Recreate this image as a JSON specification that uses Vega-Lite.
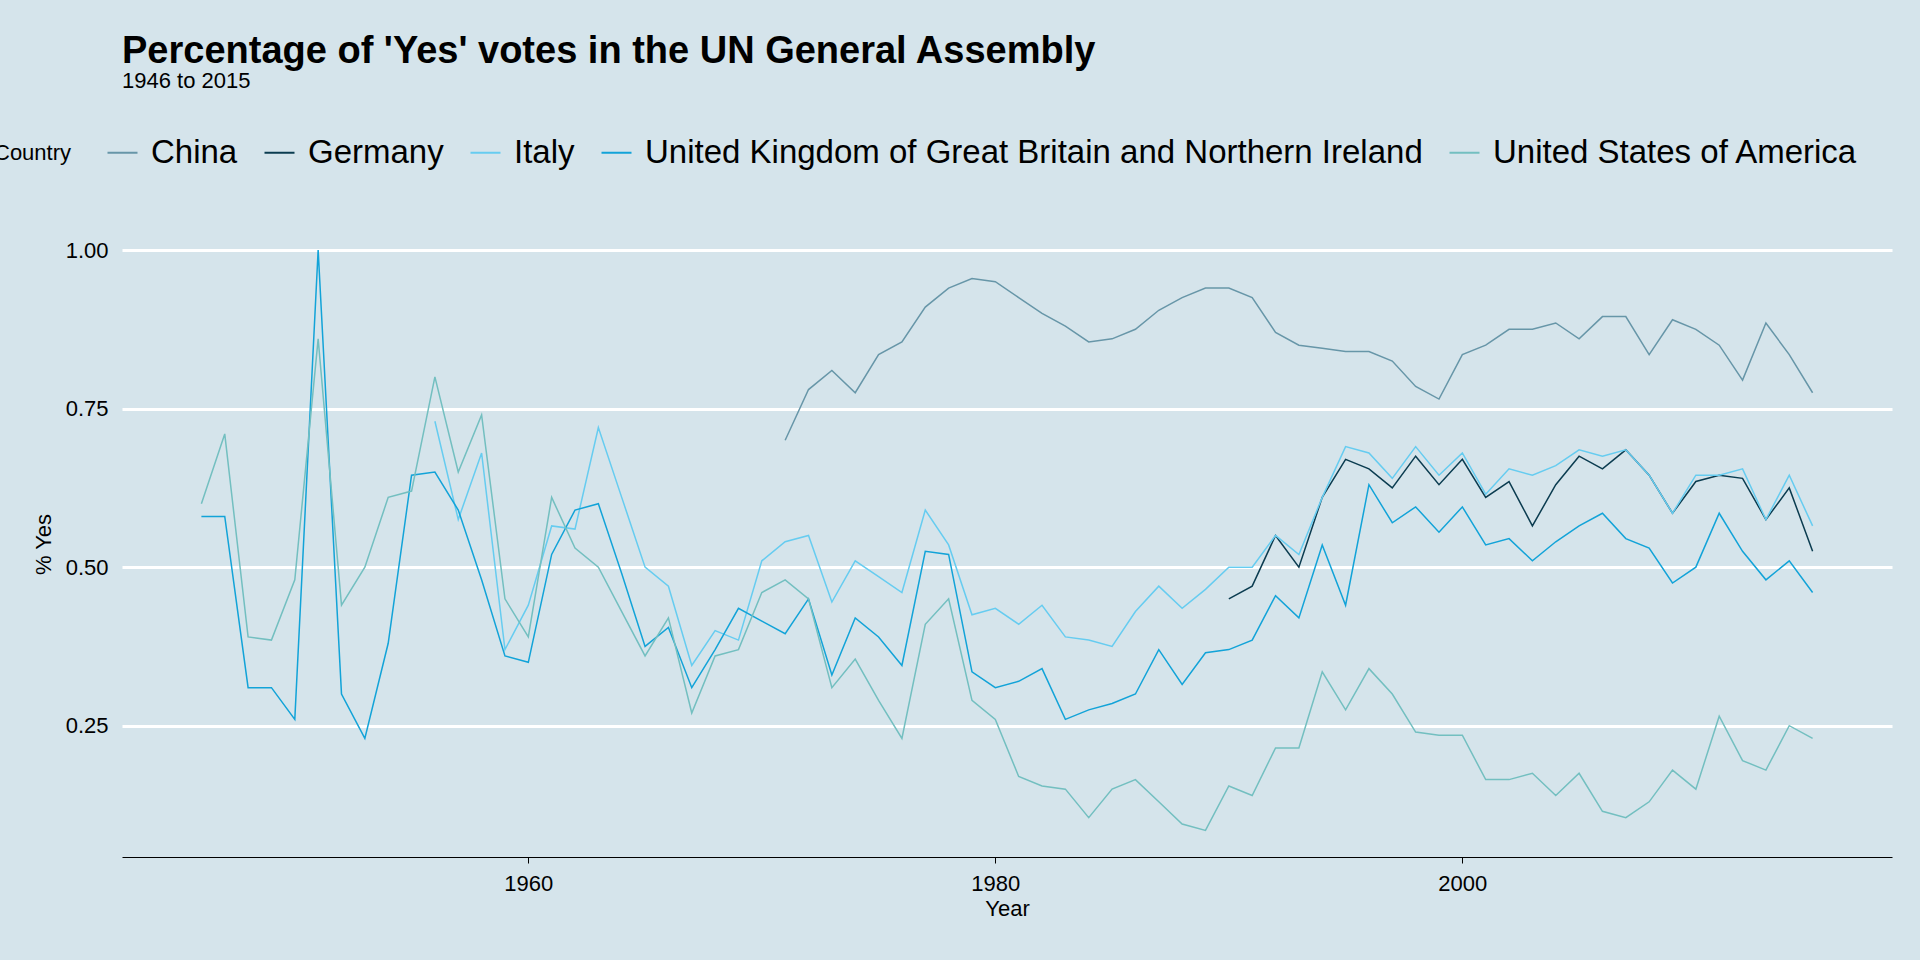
{
  "$schema": "https://vega.github.io/schema/vega-lite/v6.json",
  "width": 1770,
  "height": 626,
  "autosize": {"type": "none"},
  "padding": {"left": 122, "top": 231, "right": 28, "bottom": 103},
  "background": "#d5e4eb",
  "config": {
    "view": {"stroke": null},
    "font": "Liberation Sans"
  },
  "title": {
    "text": "Percentage of 'Yes' votes in the UN General Assembly",
    "subtitle": "1946 to 2015",
    "anchor": "start",
    "frame": "group",
    "fontSize": 38,
    "fontWeight": "bold",
    "subtitleFontSize": 22,
    "subtitlePadding": 0,
    "color": "#000000",
    "subtitleColor": "#000000",
    "offset": 44
  },
  "data": {"values": [
    {"year":1971,"country":"China","pct":0.70},{"year":1972,"country":"China","pct":0.78},{"year":1973,"country":"China","pct":0.81},{"year":1974,"country":"China","pct":0.775},{"year":1975,"country":"China","pct":0.835},{"year":1976,"country":"China","pct":0.855},{"year":1977,"country":"China","pct":0.91},{"year":1978,"country":"China","pct":0.94},{"year":1979,"country":"China","pct":0.955},{"year":1980,"country":"China","pct":0.95},{"year":1981,"country":"China","pct":0.925},{"year":1982,"country":"China","pct":0.90},{"year":1983,"country":"China","pct":0.88},{"year":1984,"country":"China","pct":0.855},{"year":1985,"country":"China","pct":0.86},{"year":1986,"country":"China","pct":0.875},{"year":1987,"country":"China","pct":0.905},{"year":1988,"country":"China","pct":0.925},{"year":1989,"country":"China","pct":0.94},{"year":1990,"country":"China","pct":0.94},{"year":1991,"country":"China","pct":0.925},{"year":1992,"country":"China","pct":0.87},{"year":1993,"country":"China","pct":0.85},{"year":1994,"country":"China","pct":0.845},{"year":1995,"country":"China","pct":0.84},{"year":1996,"country":"China","pct":0.84},{"year":1997,"country":"China","pct":0.825},{"year":1998,"country":"China","pct":0.785},{"year":1999,"country":"China","pct":0.765},{"year":2000,"country":"China","pct":0.835},{"year":2001,"country":"China","pct":0.85},{"year":2002,"country":"China","pct":0.875},{"year":2003,"country":"China","pct":0.875},{"year":2004,"country":"China","pct":0.885},{"year":2005,"country":"China","pct":0.86},{"year":2006,"country":"China","pct":0.895},{"year":2007,"country":"China","pct":0.895},{"year":2008,"country":"China","pct":0.835},{"year":2009,"country":"China","pct":0.89},{"year":2010,"country":"China","pct":0.875},{"year":2011,"country":"China","pct":0.85},{"year":2012,"country":"China","pct":0.795},{"year":2013,"country":"China","pct":0.885},{"year":2014,"country":"China","pct":0.835},{"year":2015,"country":"China","pct":0.775},

    {"year":1990,"country":"Germany","pct":0.45},{"year":1991,"country":"Germany","pct":0.47},{"year":1992,"country":"Germany","pct":0.55},{"year":1993,"country":"Germany","pct":0.50},{"year":1994,"country":"Germany","pct":0.61},{"year":1995,"country":"Germany","pct":0.67},{"year":1996,"country":"Germany","pct":0.655},{"year":1997,"country":"Germany","pct":0.625},{"year":1998,"country":"Germany","pct":0.675},{"year":1999,"country":"Germany","pct":0.63},{"year":2000,"country":"Germany","pct":0.67},{"year":2001,"country":"Germany","pct":0.61},{"year":2002,"country":"Germany","pct":0.635},{"year":2003,"country":"Germany","pct":0.565},{"year":2004,"country":"Germany","pct":0.63},{"year":2005,"country":"Germany","pct":0.675},{"year":2006,"country":"Germany","pct":0.655},{"year":2007,"country":"Germany","pct":0.685},{"year":2008,"country":"Germany","pct":0.645},{"year":2009,"country":"Germany","pct":0.585},{"year":2010,"country":"Germany","pct":0.635},{"year":2011,"country":"Germany","pct":0.645},{"year":2012,"country":"Germany","pct":0.64},{"year":2013,"country":"Germany","pct":0.575},{"year":2014,"country":"Germany","pct":0.625},{"year":2015,"country":"Germany","pct":0.525},

    {"year":1956,"country":"Italy","pct":0.73},{"year":1957,"country":"Italy","pct":0.575},{"year":1958,"country":"Italy","pct":0.68},{"year":1959,"country":"Italy","pct":0.37},{"year":1960,"country":"Italy","pct":0.44},{"year":1961,"country":"Italy","pct":0.565},{"year":1962,"country":"Italy","pct":0.56},{"year":1963,"country":"Italy","pct":0.72},{"year":1964,"country":"Italy","pct":0.61},{"year":1965,"country":"Italy","pct":0.50},{"year":1966,"country":"Italy","pct":0.47},{"year":1967,"country":"Italy","pct":0.345},{"year":1968,"country":"Italy","pct":0.40},{"year":1969,"country":"Italy","pct":0.385},{"year":1970,"country":"Italy","pct":0.51},{"year":1971,"country":"Italy","pct":0.54},{"year":1972,"country":"Italy","pct":0.55},{"year":1973,"country":"Italy","pct":0.445},{"year":1974,"country":"Italy","pct":0.51},{"year":1975,"country":"Italy","pct":0.485},{"year":1976,"country":"Italy","pct":0.46},{"year":1977,"country":"Italy","pct":0.59},{"year":1978,"country":"Italy","pct":0.535},{"year":1979,"country":"Italy","pct":0.425},{"year":1980,"country":"Italy","pct":0.435},{"year":1981,"country":"Italy","pct":0.41},{"year":1982,"country":"Italy","pct":0.44},{"year":1983,"country":"Italy","pct":0.39},{"year":1984,"country":"Italy","pct":0.385},{"year":1985,"country":"Italy","pct":0.375},{"year":1986,"country":"Italy","pct":0.43},{"year":1987,"country":"Italy","pct":0.47},{"year":1988,"country":"Italy","pct":0.435},{"year":1989,"country":"Italy","pct":0.465},{"year":1990,"country":"Italy","pct":0.50},{"year":1991,"country":"Italy","pct":0.50},{"year":1992,"country":"Italy","pct":0.55},{"year":1993,"country":"Italy","pct":0.52},{"year":1994,"country":"Italy","pct":0.61},{"year":1995,"country":"Italy","pct":0.69},{"year":1996,"country":"Italy","pct":0.68},{"year":1997,"country":"Italy","pct":0.64},{"year":1998,"country":"Italy","pct":0.69},{"year":1999,"country":"Italy","pct":0.645},{"year":2000,"country":"Italy","pct":0.68},{"year":2001,"country":"Italy","pct":0.615},{"year":2002,"country":"Italy","pct":0.655},{"year":2003,"country":"Italy","pct":0.645},{"year":2004,"country":"Italy","pct":0.66},{"year":2005,"country":"Italy","pct":0.685},{"year":2006,"country":"Italy","pct":0.675},{"year":2007,"country":"Italy","pct":0.685},{"year":2008,"country":"Italy","pct":0.645},{"year":2009,"country":"Italy","pct":0.585},{"year":2010,"country":"Italy","pct":0.645},{"year":2011,"country":"Italy","pct":0.645},{"year":2012,"country":"Italy","pct":0.655},{"year":2013,"country":"Italy","pct":0.575},{"year":2014,"country":"Italy","pct":0.645},{"year":2015,"country":"Italy","pct":0.565},

    {"year":1946,"country":"United Kingdom of Great Britain and Northern Ireland","pct":0.58},{"year":1947,"country":"United Kingdom of Great Britain and Northern Ireland","pct":0.58},{"year":1948,"country":"United Kingdom of Great Britain and Northern Ireland","pct":0.31},{"year":1949,"country":"United Kingdom of Great Britain and Northern Ireland","pct":0.31},{"year":1950,"country":"United Kingdom of Great Britain and Northern Ireland","pct":0.26},{"year":1951,"country":"United Kingdom of Great Britain and Northern Ireland","pct":1.0},{"year":1952,"country":"United Kingdom of Great Britain and Northern Ireland","pct":0.30},{"year":1953,"country":"United Kingdom of Great Britain and Northern Ireland","pct":0.23},{"year":1954,"country":"United Kingdom of Great Britain and Northern Ireland","pct":0.38},{"year":1955,"country":"United Kingdom of Great Britain and Northern Ireland","pct":0.645},{"year":1956,"country":"United Kingdom of Great Britain and Northern Ireland","pct":0.65},{"year":1957,"country":"United Kingdom of Great Britain and Northern Ireland","pct":0.59},{"year":1958,"country":"United Kingdom of Great Britain and Northern Ireland","pct":0.48},{"year":1959,"country":"United Kingdom of Great Britain and Northern Ireland","pct":0.36},{"year":1960,"country":"United Kingdom of Great Britain and Northern Ireland","pct":0.35},{"year":1961,"country":"United Kingdom of Great Britain and Northern Ireland","pct":0.52},{"year":1962,"country":"United Kingdom of Great Britain and Northern Ireland","pct":0.59},{"year":1963,"country":"United Kingdom of Great Britain and Northern Ireland","pct":0.60},{"year":1964,"country":"United Kingdom of Great Britain and Northern Ireland","pct":0.49},{"year":1965,"country":"United Kingdom of Great Britain and Northern Ireland","pct":0.375},{"year":1966,"country":"United Kingdom of Great Britain and Northern Ireland","pct":0.405},{"year":1967,"country":"United Kingdom of Great Britain and Northern Ireland","pct":0.31},{"year":1968,"country":"United Kingdom of Great Britain and Northern Ireland","pct":0.37},{"year":1969,"country":"United Kingdom of Great Britain and Northern Ireland","pct":0.435},{"year":1970,"country":"United Kingdom of Great Britain and Northern Ireland","pct":0.415},{"year":1971,"country":"United Kingdom of Great Britain and Northern Ireland","pct":0.395},{"year":1972,"country":"United Kingdom of Great Britain and Northern Ireland","pct":0.45},{"year":1973,"country":"United Kingdom of Great Britain and Northern Ireland","pct":0.33},{"year":1974,"country":"United Kingdom of Great Britain and Northern Ireland","pct":0.42},{"year":1975,"country":"United Kingdom of Great Britain and Northern Ireland","pct":0.39},{"year":1976,"country":"United Kingdom of Great Britain and Northern Ireland","pct":0.345},{"year":1977,"country":"United Kingdom of Great Britain and Northern Ireland","pct":0.525},{"year":1978,"country":"United Kingdom of Great Britain and Northern Ireland","pct":0.52},{"year":1979,"country":"United Kingdom of Great Britain and Northern Ireland","pct":0.335},{"year":1980,"country":"United Kingdom of Great Britain and Northern Ireland","pct":0.31},{"year":1981,"country":"United Kingdom of Great Britain and Northern Ireland","pct":0.32},{"year":1982,"country":"United Kingdom of Great Britain and Northern Ireland","pct":0.34},{"year":1983,"country":"United Kingdom of Great Britain and Northern Ireland","pct":0.26},{"year":1984,"country":"United Kingdom of Great Britain and Northern Ireland","pct":0.275},{"year":1985,"country":"United Kingdom of Great Britain and Northern Ireland","pct":0.285},{"year":1986,"country":"United Kingdom of Great Britain and Northern Ireland","pct":0.30},{"year":1987,"country":"United Kingdom of Great Britain and Northern Ireland","pct":0.37},{"year":1988,"country":"United Kingdom of Great Britain and Northern Ireland","pct":0.315},{"year":1989,"country":"United Kingdom of Great Britain and Northern Ireland","pct":0.365},{"year":1990,"country":"United Kingdom of Great Britain and Northern Ireland","pct":0.37},{"year":1991,"country":"United Kingdom of Great Britain and Northern Ireland","pct":0.385},{"year":1992,"country":"United Kingdom of Great Britain and Northern Ireland","pct":0.455},{"year":1993,"country":"United Kingdom of Great Britain and Northern Ireland","pct":0.42},{"year":1994,"country":"United Kingdom of Great Britain and Northern Ireland","pct":0.535},{"year":1995,"country":"United Kingdom of Great Britain and Northern Ireland","pct":0.44},{"year":1996,"country":"United Kingdom of Great Britain and Northern Ireland","pct":0.63},{"year":1997,"country":"United Kingdom of Great Britain and Northern Ireland","pct":0.57},{"year":1998,"country":"United Kingdom of Great Britain and Northern Ireland","pct":0.595},{"year":1999,"country":"United Kingdom of Great Britain and Northern Ireland","pct":0.555},{"year":2000,"country":"United Kingdom of Great Britain and Northern Ireland","pct":0.595},{"year":2001,"country":"United Kingdom of Great Britain and Northern Ireland","pct":0.535},{"year":2002,"country":"United Kingdom of Great Britain and Northern Ireland","pct":0.545},{"year":2003,"country":"United Kingdom of Great Britain and Northern Ireland","pct":0.51},{"year":2004,"country":"United Kingdom of Great Britain and Northern Ireland","pct":0.54},{"year":2005,"country":"United Kingdom of Great Britain and Northern Ireland","pct":0.565},{"year":2006,"country":"United Kingdom of Great Britain and Northern Ireland","pct":0.585},{"year":2007,"country":"United Kingdom of Great Britain and Northern Ireland","pct":0.545},{"year":2008,"country":"United Kingdom of Great Britain and Northern Ireland","pct":0.53},{"year":2009,"country":"United Kingdom of Great Britain and Northern Ireland","pct":0.475},{"year":2010,"country":"United Kingdom of Great Britain and Northern Ireland","pct":0.50},{"year":2011,"country":"United Kingdom of Great Britain and Northern Ireland","pct":0.585},{"year":2012,"country":"United Kingdom of Great Britain and Northern Ireland","pct":0.525},{"year":2013,"country":"United Kingdom of Great Britain and Northern Ireland","pct":0.48},{"year":2014,"country":"United Kingdom of Great Britain and Northern Ireland","pct":0.51},{"year":2015,"country":"United Kingdom of Great Britain and Northern Ireland","pct":0.46},

    {"year":1946,"country":"United States of America","pct":0.60},{"year":1947,"country":"United States of America","pct":0.71},{"year":1948,"country":"United States of America","pct":0.39},{"year":1949,"country":"United States of America","pct":0.385},{"year":1950,"country":"United States of America","pct":0.48},{"year":1951,"country":"United States of America","pct":0.86},{"year":1952,"country":"United States of America","pct":0.44},{"year":1953,"country":"United States of America","pct":0.50},{"year":1954,"country":"United States of America","pct":0.61},{"year":1955,"country":"United States of America","pct":0.62},{"year":1956,"country":"United States of America","pct":0.80},{"year":1957,"country":"United States of America","pct":0.65},{"year":1958,"country":"United States of America","pct":0.74},{"year":1959,"country":"United States of America","pct":0.45},{"year":1960,"country":"United States of America","pct":0.39},{"year":1961,"country":"United States of America","pct":0.61},{"year":1962,"country":"United States of America","pct":0.53},{"year":1963,"country":"United States of America","pct":0.50},{"year":1964,"country":"United States of America","pct":0.43},{"year":1965,"country":"United States of America","pct":0.36},{"year":1966,"country":"United States of America","pct":0.42},{"year":1967,"country":"United States of America","pct":0.27},{"year":1968,"country":"United States of America","pct":0.36},{"year":1969,"country":"United States of America","pct":0.37},{"year":1970,"country":"United States of America","pct":0.46},{"year":1971,"country":"United States of America","pct":0.48},{"year":1972,"country":"United States of America","pct":0.45},{"year":1973,"country":"United States of America","pct":0.31},{"year":1974,"country":"United States of America","pct":0.355},{"year":1975,"country":"United States of America","pct":0.29},{"year":1976,"country":"United States of America","pct":0.23},{"year":1977,"country":"United States of America","pct":0.41},{"year":1978,"country":"United States of America","pct":0.45},{"year":1979,"country":"United States of America","pct":0.29},{"year":1980,"country":"United States of America","pct":0.26},{"year":1981,"country":"United States of America","pct":0.17},{"year":1982,"country":"United States of America","pct":0.155},{"year":1983,"country":"United States of America","pct":0.15},{"year":1984,"country":"United States of America","pct":0.105},{"year":1985,"country":"United States of America","pct":0.15},{"year":1986,"country":"United States of America","pct":0.165},{"year":1987,"country":"United States of America","pct":0.13},{"year":1988,"country":"United States of America","pct":0.095},{"year":1989,"country":"United States of America","pct":0.085},{"year":1990,"country":"United States of America","pct":0.155},{"year":1991,"country":"United States of America","pct":0.14},{"year":1992,"country":"United States of America","pct":0.215},{"year":1993,"country":"United States of America","pct":0.215},{"year":1994,"country":"United States of America","pct":0.335},{"year":1995,"country":"United States of America","pct":0.275},{"year":1996,"country":"United States of America","pct":0.34},{"year":1997,"country":"United States of America","pct":0.30},{"year":1998,"country":"United States of America","pct":0.24},{"year":1999,"country":"United States of America","pct":0.235},{"year":2000,"country":"United States of America","pct":0.235},{"year":2001,"country":"United States of America","pct":0.165},{"year":2002,"country":"United States of America","pct":0.165},{"year":2003,"country":"United States of America","pct":0.175},{"year":2004,"country":"United States of America","pct":0.14},{"year":2005,"country":"United States of America","pct":0.175},{"year":2006,"country":"United States of America","pct":0.115},{"year":2007,"country":"United States of America","pct":0.105},{"year":2008,"country":"United States of America","pct":0.13},{"year":2009,"country":"United States of America","pct":0.18},{"year":2010,"country":"United States of America","pct":0.15},{"year":2011,"country":"United States of America","pct":0.265},{"year":2012,"country":"United States of America","pct":0.195},{"year":2013,"country":"United States of America","pct":0.18},{"year":2014,"country":"United States of America","pct":0.25},{"year":2015,"country":"United States of America","pct":0.23}
  ]},
  "mark": {"type": "line", "strokeWidth": 1.5, "clip": true},
  "encoding": {
    "x": {
      "field": "year", "type": "quantitative", "title": "Year",
      "scale": {"domain": [1942.6, 2018.4], "nice": false, "zero": false},
      "axis": {"values": [1960, 1980, 2000], "grid": false, "domainColor": "#000000", "tickColor": "#000000", "tickSize": 6, "labelFontSize": 22, "labelColor": "#000000", "titleFontSize": 22, "titleFontWeight": "normal", "titleColor": "#000000", "titlePadding": 4, "labelPadding": 10, "format": "d"}
    },
    "y": {
      "field": "pct", "type": "quantitative", "title": "% Yes",
      "scale": {"domain": [0.043, 1.03], "nice": false, "zero": false},
      "axis": {"values": [0.25, 0.5, 0.75, 1.0], "format": ".2f", "domain": false, "ticks": false, "grid": true, "gridColor": "#ffffff", "gridWidth": 3, "labelFontSize": 22, "labelColor": "#000000", "labelPadding": 14, "titleFontSize": 22, "titleFontWeight": "normal", "titleColor": "#000000", "titlePadding": 10}
    },
    "color": {
      "field": "country", "type": "nominal", "title": "Country",
      "scale": {
        "domain": ["China", "Germany", "Italy", "United Kingdom of Great Britain and Northern Ireland", "United States of America"],
        "range": ["#6796a8", "#0b3c50", "#66ccf0", "#12a3d8", "#73bfc0"]
      },
      "legend": {
        "orient": "none", "legendX": -128, "legendY": -95, "direction": "horizontal",
        "titleOrient": "left", "titleFontSize": 22, "titleFontWeight": "normal", "titleColor": "#000000",
        "labelFontSize": 33, "labelColor": "#000000", "symbolType": "stroke", "symbolSize": 900, "symbolStrokeWidth": 2,
        "labelOffset": 12, "columnPadding": 22, "labelLimit": 1000, "titlePadding": 34
      }
    }
  }
}
